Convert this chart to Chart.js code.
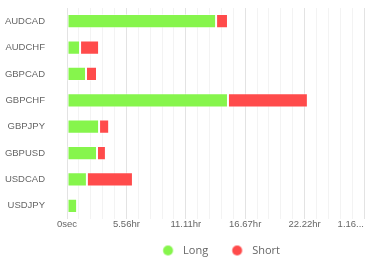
<!DOCTYPE html>
<html>
<head>
<meta charset="utf-8">
<script src="https://cdn.jsdelivr.net/npm/chart.js@4.4.1/dist/chart.umd.min.js"></script>
<style>
  html, body { margin: 0; padding: 0; background: #fff; }
  #wrap { width: 370px; height: 264px; }
</style>
</head>
<body>
<div id="wrap"><canvas id="chart"></canvas></div>
<script>
const pairs = ['AUDCAD', 'AUDCHF', 'GBPCAD', 'GBPCHF', 'GBPJPY', 'GBPUSD', 'USDCAD', 'USDJPY'];
// durations in seconds
const longSecs = [50200, 4400, 6400, 54200, 10800, 10100, 6700, 3400];
const shortSecs = [4000, 6400, 3700, 26900, 3400, 3000, 15500, 0];
const tickLabels = ['0sec', '5.56hr', '11.11hr', '16.67hr', '22.22hr', '1.16...'];
const majorStep = 20000;
const longColor = '#86f54c';
const shortColor = '#ff4b4b';

// legend marker: dot sitting a bit right of centre, so the label gap matches
function dot(color) {
    const c = document.createElement('canvas');
    c.width = 26; c.height = 12;
    const g = c.getContext('2d');
    g.fillStyle = color;
    g.beginPath();
    g.arc(16.75, 6, 5, 0, Math.PI * 2);
    g.fill();
    return c;
}

const axisFont = { family: "'Liberation Sans', Arial, sans-serif", size: 9.5 };

const ctx = document.getElementById('chart').getContext('2d');
new Chart(ctx, {
    type: 'bar',
    data: {
        labels: pairs,
        datasets: [
            {
                label: 'Long',
                data: longSecs,
                backgroundColor: longColor,
                borderColor: 'rgba(255, 255, 255, 0.5)',
                borderWidth: 1,
                borderSkipped: false,
                pointStyle: dot(longColor)
            },
            {
                label: 'Short',
                data: shortSecs,
                backgroundColor: shortColor,
                borderColor: 'rgba(255, 255, 255, 0.5)',
                borderWidth: 1,
                borderSkipped: false,
                pointStyle: dot(shortColor)
            }
        ]
    },
    options: {
        indexAxis: 'y',
        responsive: true,
        maintainAspectRatio: false,
        animation: false,
        layout: { padding: { top: 8, right: 6, left: 0, bottom: -2 } },
        datasets: {
            bar: { categoryPercentage: 0.6, barPercentage: 0.9 }
        },
        scales: {
            x: {
                stacked: true,
                min: 0,
                max: 100000,
                border: { display: false },
                grid: {
                    drawTicks: false,
                    color: c => (c.tick && c.tick.value % majorStep === 0) ? '#e3e3e3' : '#f3f3f3'
                },
                ticks: {
                    stepSize: 4000,
                    autoSkip: false,
                    maxRotation: 0,
                    padding: 0,
                    color: '#666',
                    font: axisFont,
                    callback: v => {
                        if (v % majorStep !== 0) return '';
                        const lbl = tickLabels[v / majorStep];
                        return v / majorStep === tickLabels.length - 1 ? lbl + '          ' : lbl;
                    }
                },
                afterFit: s => { s.paddingRight = 0; s.paddingLeft = 0; s.height = 14; }
            },
            y: {
                stacked: true,
                border: { display: false },
                grid: { display: false },
                ticks: {
                    padding: 14,
                    color: '#666',
                    font: axisFont
                },
                afterFit: s => { s.paddingTop = 0; s.paddingBottom = 0; s.width = 67; }
            }
        },
        plugins: {
            tooltip: { enabled: false },
            legend: {
                position: 'bottom',
                fullSize: false,
                labels: {
                    usePointStyle: true,
                    pointStyleWidth: 26.5,
                    boxHeight: 11,
                    padding: 12,
                    color: '#666',
                    font: { family: 'Open Sans', size: 11 }
                }
            }
        }
    }
});
</script>
</body>
</html>
